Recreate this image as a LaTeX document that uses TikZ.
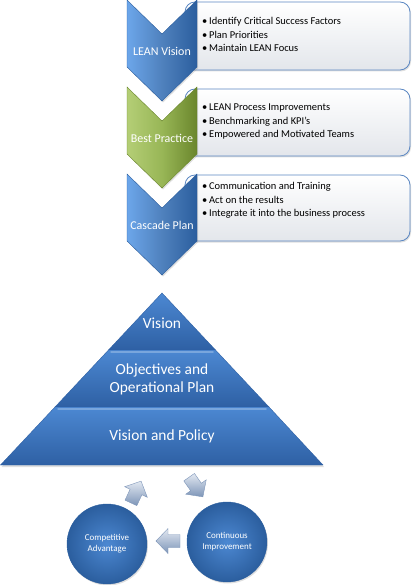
\documentclass[tikz,border=0pt]{standalone}
\usepackage{fontspec}
\setmainfont{Carlito}
\usetikzlibrary{shadows}

\definecolor{leanblue}{HTML}{4F81BD}
\definecolor{chevlight}{HTML}{6CA6EA}
\definecolor{chevdark}{HTML}{2B5E9E}
\definecolor{greenlight}{HTML}{B4CE76}
\definecolor{greenmid}{HTML}{98B656}
\definecolor{greendark}{HTML}{6A862C}
\definecolor{boxline}{HTML}{5B87C2}
\definecolor{boxgrey}{HTML}{E3E6EB}
\definecolor{pyrlight}{HTML}{4C88D2}
\definecolor{pyrdark}{HTML}{2E60A4}
\definecolor{arrowlight}{HTML}{E2E8F1}
\definecolor{arrowdark}{HTML}{7D95B8}

\newcommand{\cyclearrow}[2]{%
    \draw[cyclearrowstyle, shift={#1}, rotate=#2]
        (-12, -6.5) -- (0, -6.5) -- (0, -12.5) -- (12, 0) -- (0, 12.5) -- (0, 6.5) -- (-12, 6.5) -- cycle;}

\begin{document}
\begin{tikzpicture}[x=1bp, y=-1bp, chevtxt/.style={text=white, font=\fontsize{12}{14}\selectfont}]
        \tikzset{infobox/.style={draw=boxline, line width=0.8bp, rounded corners=10bp, top color=white, bottom color=boxgrey,
            drop shadow={opacity=0.25, shadow xshift=1bp, shadow yshift=-1.5bp}}};
        \tikzset{bullets/.style={anchor=west, align=left, inner sep=0pt, font=\fontsize{10.5}{13.5}\selectfont}};
        \tikzset{bluechev/.style={draw=chevdark, line width=0.4bp, left color=chevlight, right color=chevdark, middle color=leanblue,
            drop shadow={opacity=0.25, shadow xshift=1bp, shadow yshift=-1.5bp}}};
        \tikzset{greenchev/.style={draw=greendark, line width=0.4bp, left color=greenlight, right color=greendark, middle color=greenmid,
            drop shadow={opacity=0.25, shadow xshift=1bp, shadow yshift=-1.5bp}}};
        \tikzset{pyrlayer/.style={draw=pyrdark, line width=0.4bp, top color=pyrlight, bottom color=pyrdark,
            drop shadow={opacity=0.25, shadow xshift=1bp, shadow yshift=-2bp}}};
        \tikzset{pyrtxt/.style={text=white, align=center, font=\fontsize{15.5}{18}\selectfont}};
        \tikzset{cyclecircle/.style={circle, minimum size=80bp, inner sep=0pt, draw=chevdark, line width=0.4bp,
            inner color=pyrlight, outer color=chevdark, text=white, align=center, font=\fontsize{9}{11}\selectfont,
            drop shadow={opacity=0.25, shadow xshift=1bp, shadow yshift=-1.5bp}}};
        \tikzset{cyclearrowstyle/.style={draw=arrowdark, line width=0.4bp, top color=arrowlight, bottom color=arrowdark}};
        \useasboundingbox (0, 0) rectangle (411, 585);

        % boxes behind the chevrons
        \draw[infobox] (185, 2) rectangle (410, 70);
        \draw[infobox] (185, 89) rectangle (410, 156);
        \draw[infobox] (185, 175) rectangle (410, 241);

        \node[bullets] (leantxt) at (202, 34.5) {\textbullet\,Identify Critical Success Factors\\
            \textbullet\,Plan Priorities\\ \textbullet\,Maintain LEAN Focus};
        \node[bullets] (besttxt) at (202, 121.5) {\textbullet\,LEAN Process Improvements\\
            \textbullet\,Benchmarking and KPI's\\ \textbullet\,Empowered and Motivated Teams};
        \node[bullets] (cascadetxt) at (202, 200.5) {\textbullet\,Communication and Training\\
            \textbullet\,Act on the results\\ \textbullet\,Integrate it into the business process};

        % chevrons
        \draw[bluechev] (127, 0) -- (162, 34) -- (197, 0) -- (197, 67) -- (162, 101) -- (127, 67) -- cycle;
        \draw[greenchev] (127, 87) -- (162, 121) -- (197, 87) -- (197, 154) -- (162, 188) -- (127, 154) -- cycle;
        \draw[bluechev] (127, 174) -- (162, 208) -- (197, 174) -- (197, 241) -- (162, 275) -- (127, 241) -- cycle;

        \node[chevtxt] (lean) at (162, 51) {LEAN Vision};
        \node[chevtxt] (best) at (162, 138) {Best Practice};
        \node[chevtxt] (cascade) at (162, 225) {Cascade Plan};

        % pyramid
        \draw[pyrlayer] (162, 293) -- (215.5, 350) -- (108.5, 350) -- cycle;
        \draw[pyrlayer] (108.5, 350) -- (215.5, 350) -- (269, 407) -- (55, 407) -- cycle;
        \draw[pyrlayer] (55, 407) -- (269, 407) -- (323, 465) -- (0.5, 465) -- cycle;
        \draw[pyrlight!75!white, line width=1.5bp, line cap=round] (111, 352) -- (213, 352);
        \draw[pyrlight!75!white, line width=1.5bp, line cap=round] (58, 409) -- (266, 409);

        \node[pyrtxt] (vision) at (162, 323) {Vision};
        \node[pyrtxt] (objectives) at (162, 379) {Objectives and\\ Operational Plan};
        \node[pyrtxt] (policy) at (162, 436) {Vision and Policy};

        % improvement cycle
        \node[cyclecircle] (compadv) at (107, 544) {Competitive\\ Advantage};
        \node[cyclecircle] (contimp) at (227, 542) {Continuous\\ Improvement};

        \cyclearrow{(136, 492)}{65}
        \cyclearrow{(196, 487)}{-55}
        \cyclearrow{(168, 541)}{180}
    \end{tikzpicture}
\end{document}
